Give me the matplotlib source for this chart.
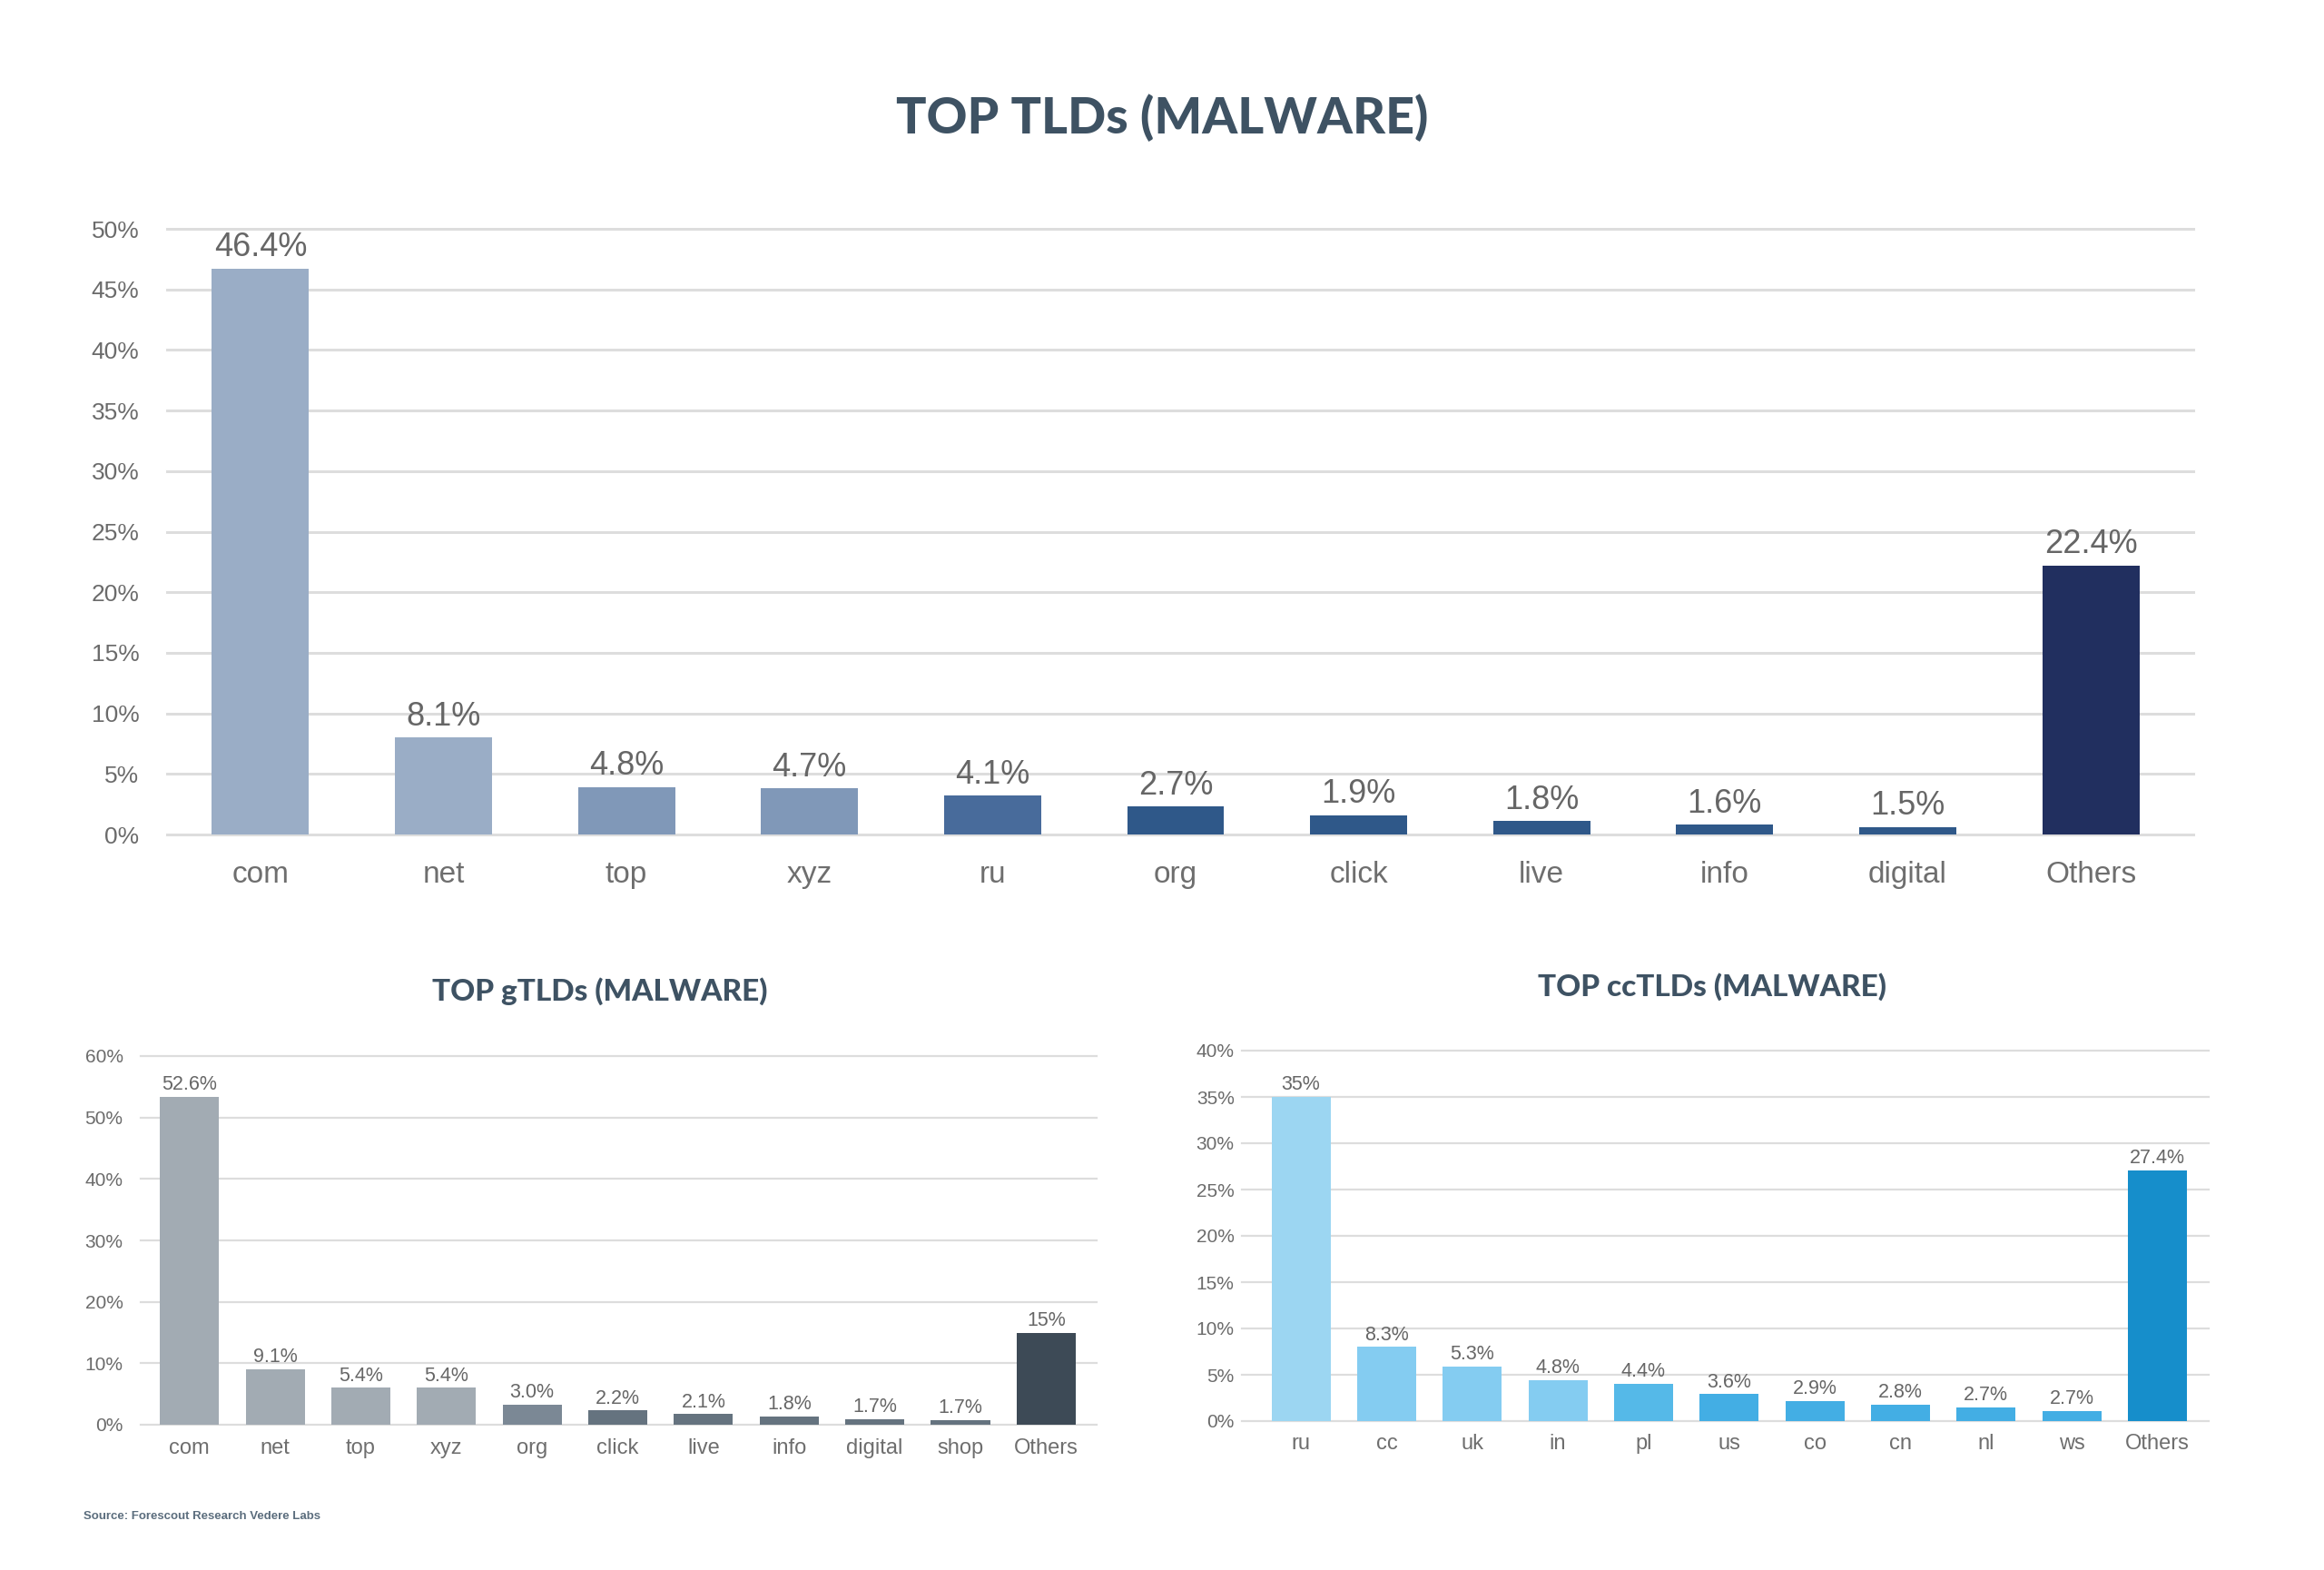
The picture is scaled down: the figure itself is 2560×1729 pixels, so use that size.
import matplotlib
matplotlib.use('Agg')
import matplotlib.pyplot as plt

# --- data ---
# top chart: all TLDs
tld_names = ['com', 'net', 'top', 'xyz', 'ru', 'org', 'click', 'live', 'info', 'digital', 'Others']
tld_heights = [46.7, 8.0, 3.9, 3.8, 3.2, 2.3, 1.6, 1.1, 0.8, 0.6, 22.2]
tld_labels = ['46.4%', '8.1%', '4.8%', '4.7%', '4.1%', '2.7%', '1.9%', '1.8%', '1.6%', '1.5%', '22.4%']
tld_colors = ['#9aadc6', '#9aadc6', '#8098b8', '#8098b8', '#486b9b', '#2f5889',
              '#2f5889', '#2f5889', '#2f5889', '#2f5889', '#212f5f']
tld_ticks = [0, 5, 10, 15, 20, 25, 30, 35, 40, 45, 50]

# bottom left: gTLDs
g_names = ['com', 'net', 'top', 'xyz', 'org', 'click', 'live', 'info', 'digital', 'shop', 'Others']
g_heights = [53.4, 9.0, 6.0, 6.0, 3.3, 2.3, 1.7, 1.4, 0.95, 0.7, 15.0]
g_labels = ['52.6%', '9.1%', '5.4%', '5.4%', '3.0%', '2.2%', '2.1%', '1.8%', '1.7%', '1.7%', '15%']
g_colors = ['#a2abb3', '#a2abb3', '#a2abb3', '#a2abb3', '#7b8895', '#65737f',
            '#65737f', '#65737f', '#65737f', '#65737f', '#3d4a56']
g_ticks = [0, 10, 20, 30, 40, 50, 60]

# bottom right: ccTLDs
cc_names = ['ru', 'cc', 'uk', 'in', 'pl', 'us', 'co', 'cn', 'nl', 'ws', 'Others']
cc_heights = [35.0, 8.0, 5.9, 4.4, 4.0, 2.9, 2.2, 1.8, 1.5, 1.1, 27.1]
cc_labels = ['35%', '8.3%', '5.3%', '4.8%', '4.4%', '3.6%', '2.9%', '2.8%', '2.7%', '2.7%', '27.4%']
cc_colors = ['#9cd6f2', '#84ccf1', '#84ccf1', '#84ccf1', '#55b9e8', '#43aee4',
             '#43aee4', '#43aee4', '#43aee4', '#43aee4', '#168ecb']
cc_ticks = [0, 5, 10, 15, 20, 25, 30, 35, 40]

W, H = 2560, 1729
fig = plt.figure(figsize=(W / 100, H / 100), dpi=100)
fig.patch.set_facecolor('white')

num_font = 'Liberation Sans'
title_font = 'Lato'
title_color = '#3e5263'
text_grey = '#6b6b6b'
grid_grey = '#dddddd'


def px_axes(left, right, y0, ytop):
    # pixel box -> figure fraction
    return fig.add_axes([left / W, 1 - y0 / H, (right - left) / W, (y0 - ytop) / H])


def draw(ax, names, heights, labels, colors, ticks, width, xlim,
         tick_fs, val_fs, cat_fs, ypad, xpad, val_off, grid_lw):
    x = list(range(len(names)))
    ax.bar(x, heights, width=width, color=colors, zorder=3)
    ax.set_xlim(*xlim)
    ax.set_ylim(ticks[0], ticks[-1])
    ax.set_yticks(ticks)
    ax.set_yticklabels(['%d%%' % t for t in ticks], fontsize=tick_fs,
                       family=num_font, color=text_grey)
    ax.set_xticks(x)
    ax.set_xticklabels(names, fontsize=cat_fs, family=num_font, color='#6e6e6e')
    ax.tick_params(axis='y', length=0, pad=ypad)
    ax.tick_params(axis='x', length=0, pad=xpad)
    for s in ax.spines.values():
        s.set_visible(False)
    ax.yaxis.grid(True, color=grid_grey, linewidth=grid_lw, zorder=0)
    ax.set_axisbelow(True)
    for gl in ax.get_ygridlines():
        gl.set_clip_on(False)
    for xi, h, lab in zip(x, heights, labels):
        ax.annotate(lab, (xi, h), xytext=(0, val_off), textcoords='offset points',
                    ha='center', va='bottom', fontsize=val_fs, family=num_font,
                    color='#666666', zorder=4)
    ax.set_facecolor('none')


ax1 = px_axes(184, 2416, 919, 252)
draw(ax1, tld_names, tld_heights, tld_labels, tld_colors, tld_ticks, 0.53, (-0.51, 10.56),
     19, 26, 24, 22, 21, 4, 2.2)

ax2 = px_axes(155, 1208, 1569, 1163)
draw(ax2, g_names, g_heights, g_labels, g_colors, g_ticks, 0.69, (-0.57, 10.59),
     15, 15.5, 17, 14, 11, 2, 1.6)

ax3 = px_axes(1368, 2433, 1565, 1157)
draw(ax3, cc_names, cc_heights, cc_labels, cc_colors, cc_ticks, 0.69, (-0.69, 10.6),
     15, 15.5, 17, 6, 10, 2, 1.6)

fig.text(1280 / W, 1 - 130 / H, 'TOP TLDs (MALWARE)', ha='center', va='center',
         fontsize=40, fontweight='black', family=title_font, color=title_color)
fig.text(661 / W, 1 - 1092 / H, 'TOP gTLDs (MALWARE)', ha='center', va='center',
         fontsize=24, fontweight='black', family=title_font, color=title_color)
fig.text(1886 / W, 1 - 1087 / H, 'TOP ccTLDs (MALWARE)', ha='center', va='center',
         fontsize=24, fontweight='black', family=title_font, color=title_color)
fig.text(92 / W, 1 - 1670 / H, 'Source: Forescout Research Vedere Labs', ha='left',
         va='center', fontsize=9.5, fontweight='bold', family=num_font, color='#5b6d7d')

fig.savefig('out.png', dpi=100, facecolor='white')
